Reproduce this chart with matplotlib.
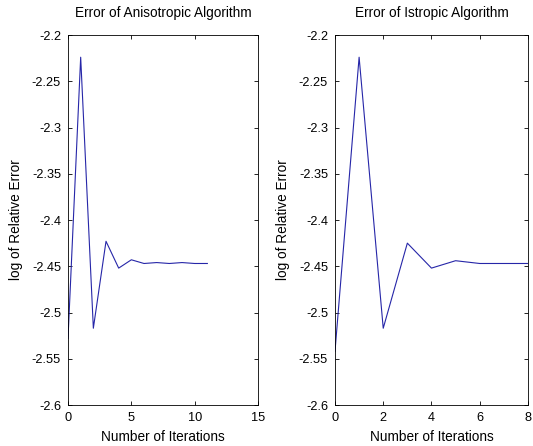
import matplotlib
matplotlib.use("Agg")
import matplotlib.pyplot as plt
from matplotlib.ticker import FuncFormatter

# values
aniso_iter = [0, 1, 2, 3, 4, 5, 6, 7, 8, 9, 10, 11]
aniso_err = [-2.528, -2.224, -2.517, -2.423, -2.452, -2.443, -2.447,
             -2.446, -2.447, -2.446, -2.447, -2.447]

iso_iter = [0, 1, 2, 3, 4, 5, 6, 7, 8]
iso_err = [-2.542, -2.224, -2.517, -2.425, -2.452, -2.444, -2.447, -2.447, -2.447]

y_ticks = [-2.6, -2.55, -2.5, -2.45, -2.4, -2.35, -2.3, -2.25, -2.2]

plt.rcParams['font.family'] = ['Liberation Sans', 'DejaVu Sans']
plt.rcParams['font.size'] = 9.2

line_color = "#2626a8"

fig = plt.figure(figsize=(5.33, 4.46), dpi=100)
ax1 = fig.add_axes([0.1276, 0.0919, 0.3565, 0.8296])
ax2 = fig.add_axes([0.6285, 0.0919, 0.362, 0.8296])


def style_axes(ax, title, xlim, xticks):
    ax.set_xlim(*xlim)
    ax.set_ylim(-2.6, -2.2)
    ax.set_xticks(xticks)
    ax.set_yticks(y_ticks)
    ax.yaxis.set_major_formatter(FuncFormatter(lambda v, p: "%g" % v))
    ax.tick_params(direction="in", top=True, right=True, length=3, width=0.6, pad=5,
                   labelsize=9.2)
    for sp in ax.spines.values():
        sp.set_linewidth(0.6)
    ax.set_title(title, fontsize=9.8, pad=13)
    ax.set_xlabel("Number of Iterations", fontsize=9.8, labelpad=4)
    ax.set_ylabel("log of Relative Error", fontsize=9.8, labelpad=6)


ax1.plot(aniso_iter, aniso_err, color=line_color, linewidth=0.8)
style_axes(ax1, "Error of Anisotropic Algorithm", (0, 15), [0, 5, 10, 15])

ax2.plot(iso_iter, iso_err, color=line_color, linewidth=0.8)
style_axes(ax2, "Error of Istropic Algorithm", (0, 8), [0, 2, 4, 6, 8])

fig.savefig("out.png", dpi=100)
